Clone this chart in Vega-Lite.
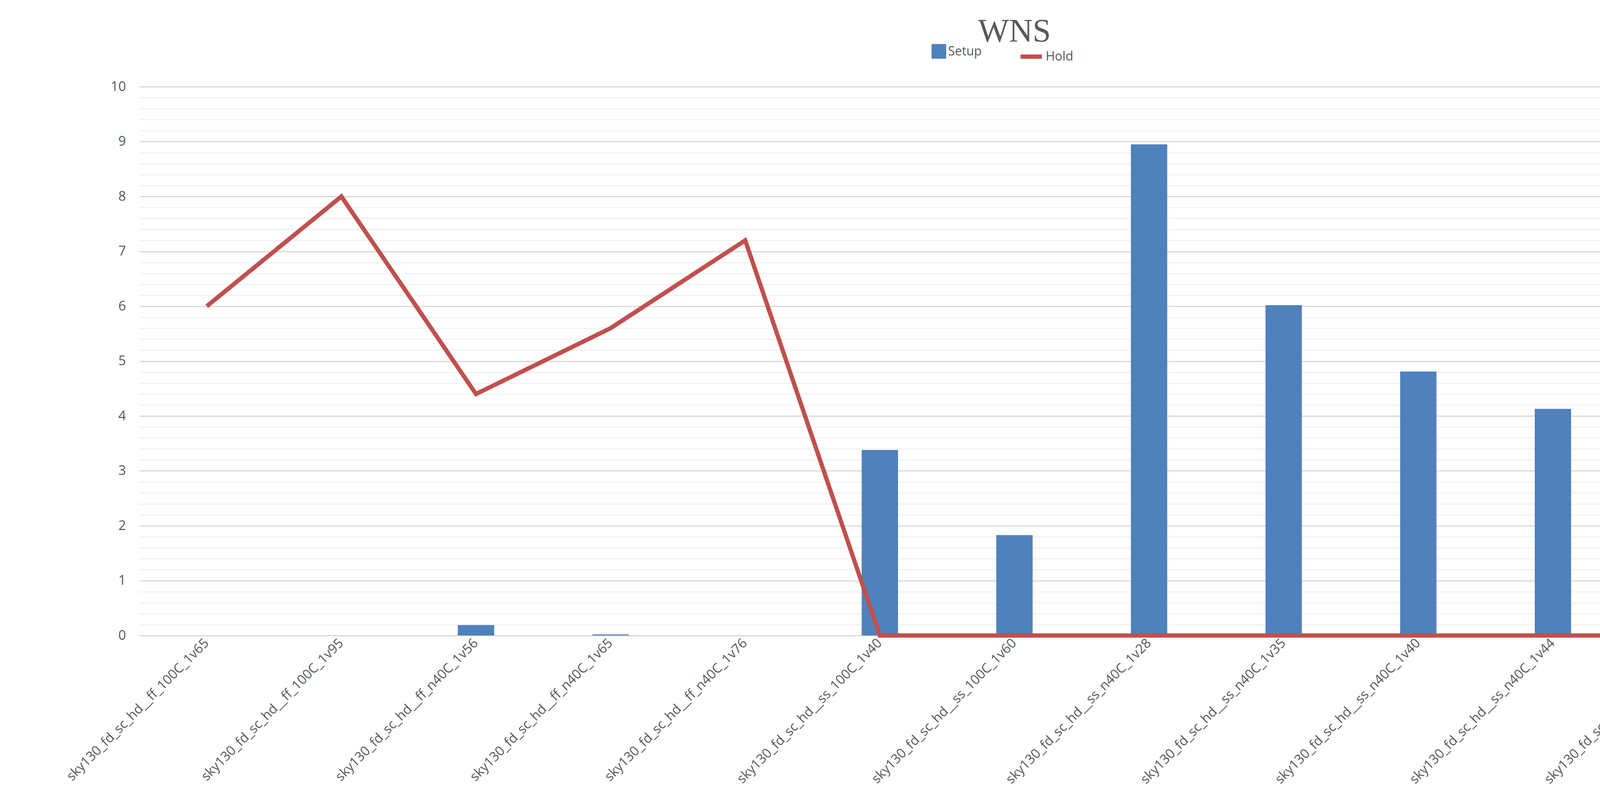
{
  "$schema": "https://vega.github.io/schema/vega-lite/v6.json",
  "autosize": {"type": "fit", "contains": "padding"},
  "width": 4977,
  "height": 2043,
  "padding": {"left": 183, "top": 40, "right": 42, "bottom": 30},
  "background": "white",
  "title": {"text": "WNS", "font": "Liberation Serif", "fontSize": 84, "fontWeight": "normal", "color": "#595959", "offset": 80},
  "config": {
    "view": {"stroke": null},
    "font": "Open Sans",
    "axis": {"labelColor": "#595959", "labelFontSize": 34, "labelFont": "Open Sans", "title": null, "ticks": false},
    "legend": {"labelColor": "#595959", "labelFontSize": 32, "title": null}
  },
  "data": {"values": [
    {"corner": "sky130_fd_sc_hd__ff_100C_1v65", "Setup": 0, "Hold": 0.15},
    {"corner": "sky130_fd_sc_hd__ff_100C_1v95", "Setup": 0, "Hold": 0.2},
    {"corner": "sky130_fd_sc_hd__ff_n40C_1v56", "Setup": 0.19, "Hold": 0.11},
    {"corner": "sky130_fd_sc_hd__ff_n40C_1v65", "Setup": 0.02, "Hold": 0.14},
    {"corner": "sky130_fd_sc_hd__ff_n40C_1v76", "Setup": 0, "Hold": 0.18},
    {"corner": "sky130_fd_sc_hd__ss_100C_1v40", "Setup": 3.38, "Hold": 0},
    {"corner": "sky130_fd_sc_hd__ss_100C_1v60", "Setup": 1.83, "Hold": 0},
    {"corner": "sky130_fd_sc_hd__ss_n40C_1v28", "Setup": 8.95, "Hold": 0},
    {"corner": "sky130_fd_sc_hd__ss_n40C_1v35", "Setup": 6.02, "Hold": 0},
    {"corner": "sky130_fd_sc_hd__ss_n40C_1v40", "Setup": 4.81, "Hold": 0},
    {"corner": "sky130_fd_sc_hd__ss_n40C_1v44", "Setup": 4.13, "Hold": 0},
    {"corner": "sky130_fd_sc_hd__ss_n40C_1v76", "Setup": 1.21, "Hold": 0},
    {"corner": "sky130_fd_sc_hd__tt_025C_1v80", "Setup": 0.23, "Hold": 0.09}
  ]},
  "encoding": {
    "x": {"field": "corner", "type": "nominal", "sort": null,
      "scale": {"paddingInner": 0.73, "paddingOuter": 0.365},
      "axis": {"labelAngle": -45, "labelAlign": "right", "labelBaseline": "middle", "labelPadding": 14, "domainColor": "#d9d9d9", "domainWidth": 3, "labelLimit": 1000}}
  },
  "layer": [
    {
      "transform": [{"calculate": "'Setup'", "as": "series"}],
      "mark": {"type": "bar", "color": "#4f81bd"},
      "encoding": {
        "y": {"field": "Setup", "type": "quantitative", "scale": {"domain": [0, 10]},
          "axis": {"values": [0,0.2,0.4,0.6,0.8,1,1.2,1.4,1.6,1.8,2,2.2,2.4,2.6,2.8,3,3.2,3.4,3.6,3.8,4,4.2,4.4,4.6,4.8,5,5.2,5.4,5.6,5.8,6,6.2,6.4,6.6,6.8,7,7.2,7.4,7.6,7.8,8,8.2,8.4,8.6,8.8,9,9.2,9.4,9.6,9.8,10],
            "labelExpr": "abs(datum.value - round(datum.value)) < 0.001 ? format(datum.value, 'd') : ''",
            "gridColor": {"condition": {"test": "abs(datum.value - round(datum.value)) < 0.001", "value": "#d9d9d9"}, "value": "#f2f2f2"},
            "gridWidth": 3, "domain": false, "labelPadding": 35}},
        "color": {"field": "series", "type": "nominal", "scale": {"domain": ["Setup"], "range": ["#4f81bd"]},
          "legend": {"orient": "none", "legendX": 2027, "legendY": -110, "symbolType": "square", "symbolSize": 1400}}
      }
    },
    {
      "transform": [{"calculate": "'Hold'", "as": "series2"}],
      "mark": {"type": "line", "strokeWidth": 11},
      "encoding": {
        "y": {"field": "Hold", "type": "quantitative", "scale": {"domain": [0, 0.25]},
          "axis": {"orient": "right", "values": [0, 0.05, 0.1, 0.15, 0.2, 0.25], "format": "~g", "grid": false, "domain": false, "labelPadding": 30}},
        "stroke": {"field": "series2", "type": "nominal", "scale": {"domain": ["Hold"], "range": ["#c0504d"]},
          "legend": {"orient": "none", "legendX": 2250, "legendY": -110, "symbolType": "stroke", "symbolStrokeWidth": 11, "symbolSize": 3000}}
      }
    }
  ],
  "resolve": {"scale": {"y": "independent"}}
}
